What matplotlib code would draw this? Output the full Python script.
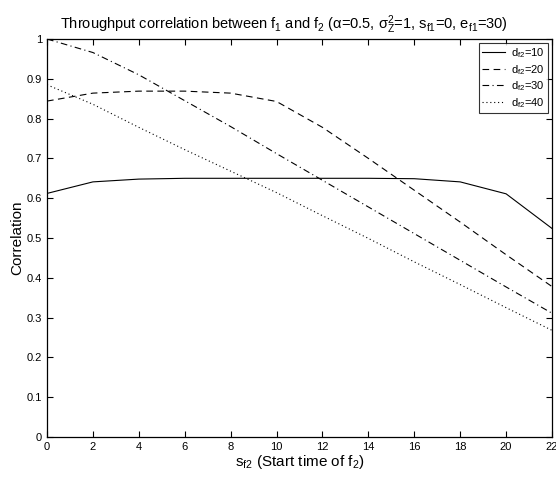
import numpy as np
import matplotlib
matplotlib.use('Agg')
import matplotlib.pyplot as plt
from matplotlib.ticker import FuncFormatter

plt.rcParams['font.family'] = ['Liberation Sans', 'DejaVu Sans']
plt.rcParams['mathtext.default'] = 'regular'

# start time of f2
s_f2 = [0, 2, 4, 6, 8, 10, 12, 14, 16, 18, 20, 22]

# correlation for each duration d_f2
corr_d10 = [0.612, 0.641, 0.648, 0.650, 0.650, 0.650, 0.650, 0.650, 0.649, 0.641, 0.611, 0.524]
corr_d20 = [0.844, 0.864, 0.869, 0.869, 0.864, 0.843, 0.778, 0.700, 0.620, 0.540, 0.458, 0.378]
corr_d30 = [1.000, 0.966, 0.910, 0.845, 0.780, 0.712, 0.645, 0.578, 0.511, 0.444, 0.377, 0.311]
corr_d40 = [0.885, 0.836, 0.778, 0.722, 0.668, 0.614, 0.556, 0.499, 0.440, 0.383, 0.325, 0.268]

fig = plt.figure(figsize=(5.56, 4.79), dpi=100)
ax = fig.add_axes([47/556, 1 - 437/479, 505/556, 398/479])

lw = 0.8
ax.plot(s_f2, corr_d10, color='k', linestyle='-', linewidth=lw, label='$d_{f2}$=10')
ax.plot(s_f2, corr_d20, color='k', linestyle=(0, (6, 4)), linewidth=lw, label='$d_{f2}$=20')
ax.plot(s_f2, corr_d30, color='k', linestyle=(0, (6, 3, 1, 3)), linewidth=lw, label='$d_{f2}$=30')
ax.plot(s_f2, corr_d40, color='k', linestyle=(0, (1, 2.5)), linewidth=lw, label='$d_{f2}$=40')

ax.set_xlim(0, 22)
ax.set_ylim(0, 1)
ax.set_xticks(np.arange(0, 23, 2))
ax.set_yticks(np.arange(0, 1.01, 0.1))
ax.yaxis.set_major_formatter(FuncFormatter(lambda v, p: ('%.1f' % v).rstrip('0').rstrip('.')))
ax.tick_params(direction='in', top=True, right=True, labelsize=8, length=4, width=0.8)
for sp in ax.spines.values():
    sp.set_linewidth(0.9)

ax.set_xlabel('$s_{f2}$ (Start time of $f_2$)', fontsize=11, labelpad=1)
ax.set_ylabel('Correlation', fontsize=11, labelpad=2)
ax.set_title(r'Throughput correlation between $f_1$ and $f_2$ ($\alpha$=0.5, $\sigma^2_Z$=1, $s_{f1}$=0, $e_{f1}$=30)',
             fontsize=10.5, pad=7, x=0.47)

leg = ax.legend(loc='upper right', fontsize=8, frameon=True, fancybox=False,
                edgecolor='k', handlelength=2.0, borderaxespad=0.35, labelspacing=0.25,
                borderpad=0.3, handletextpad=0.6)
leg.get_frame().set_linewidth(0.8)

fig.savefig('out.png', dpi=100)
